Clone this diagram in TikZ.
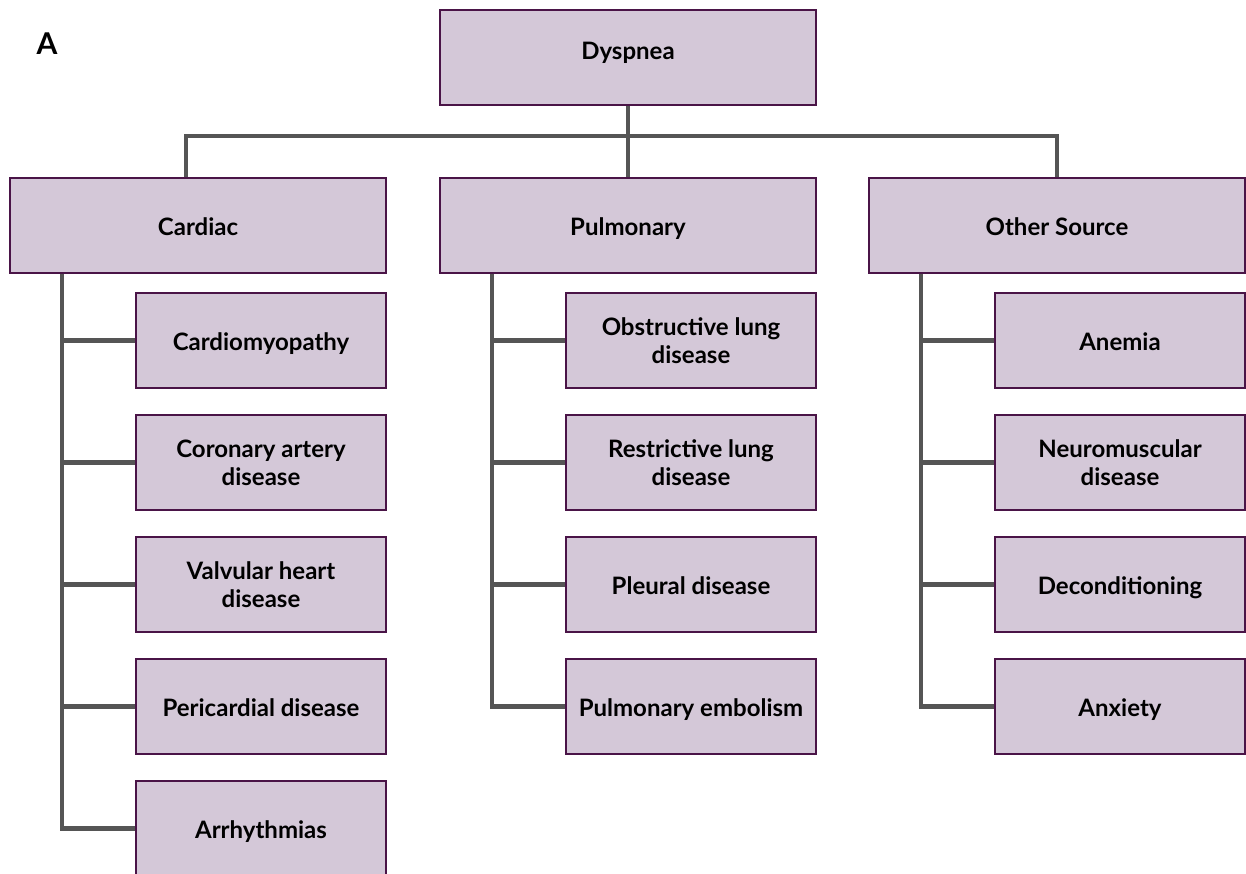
\documentclass[tikz,border=0pt]{standalone}
\usepackage{fontspec}
\setmainfont{Lato}
\usepackage{xcolor}
\definecolor{boxfill}{HTML}{D4C8D8}
\definecolor{boxline}{HTML}{4A1447}
\definecolor{linkgray}{HTML}{555555}

\begin{document}
\begin{tikzpicture}[x=1pt,y=-1pt,
box/.style={draw=boxline,line width=1.8pt,fill=boxfill,minimum width=376pt,minimum height=95pt,align=center,text height=25pt,text depth=5pt,font=\fontsize{24}{28}\selectfont\bfseries},
subbox/.style={box,minimum width=250pt},
twoline/.style={subbox,text height=,text depth=},
link/.style={draw=linkgray,line width=4.5pt}]
%\draw[help lines] (0,0) grid (1246,874);
\useasboundingbox (0,0) rectangle (1246,874);
\clip (0,0) rectangle (1246,874);

\node[font=\fontsize{30}{30}\selectfont\bfseries] (lab) at (47,44) {A};

\node[box,text height=17pt,text depth=12pt] (dys) at (628,57.5) {Dyspnea};
\node[box] (card) at (198,225.5) {Cardiac};
\node[box] (pul) at (628,225.5) {Pulmonary};
\node[box] (oth) at (1057,225.5) {Other Source};

\coordinate (bus) at (628,136);
\draw[link] (dys.south) -- (pul.north);
\draw[link] ([xshift=-12pt]card.north) |- (bus) -| (oth.north);

% cardiac
\node[subbox] (c1) at (261,340.5) {Cardiomyopathy};
\node[twoline] (c2) at (261,462.5) {Coronary artery\\disease};
\node[twoline] (c3) at (261,584.5) {Valvular heart\\disease};
\node[subbox] (c4) at (261,706.5) {Pericardial disease};
\node[subbox] (c5) at (261,828.5) {Arrhythmias};

% pulmonary
\node[twoline] (p1) at (691,340.5) {Obstructive lung\\disease};
\node[twoline] (p2) at (691,462.5) {Restrictive lung\\disease};
\node[subbox] (p3) at (691,584.5) {Pleural disease};
\node[subbox] (p4) at (691,706.5) {Pulmonary embolism};

% other source
\node[subbox] (o1) at (1120,340.5) {Anemia};
\node[twoline] (o2) at (1120,462.5) {Neuromuscular\\disease};
\node[subbox] (o3) at (1120,584.5) {Deconditioning};
\node[subbox] (o4) at (1120,706.5) {Anxiety};

\coordinate (cs) at ([xshift=53pt]card.south west);
\coordinate (ps) at ([xshift=53pt]pul.south west);
\coordinate (os) at ([xshift=53pt]oth.south west);

\draw[link] (cs) |- (c5.west);
\foreach \n in {c1,c2,c3,c4}
  \draw[link] (\n.west) -- (\n.west -| cs);
\draw[link] (ps) |- (p4.west);
\foreach \n in {p1,p2,p3}
  \draw[link] (\n.west) -- (\n.west -| ps);
\draw[link] (os) |- (o4.west);
\foreach \n in {o1,o2,o3}
  \draw[link] (\n.west) -- (\n.west -| os);
\end{tikzpicture}
\end{document}
